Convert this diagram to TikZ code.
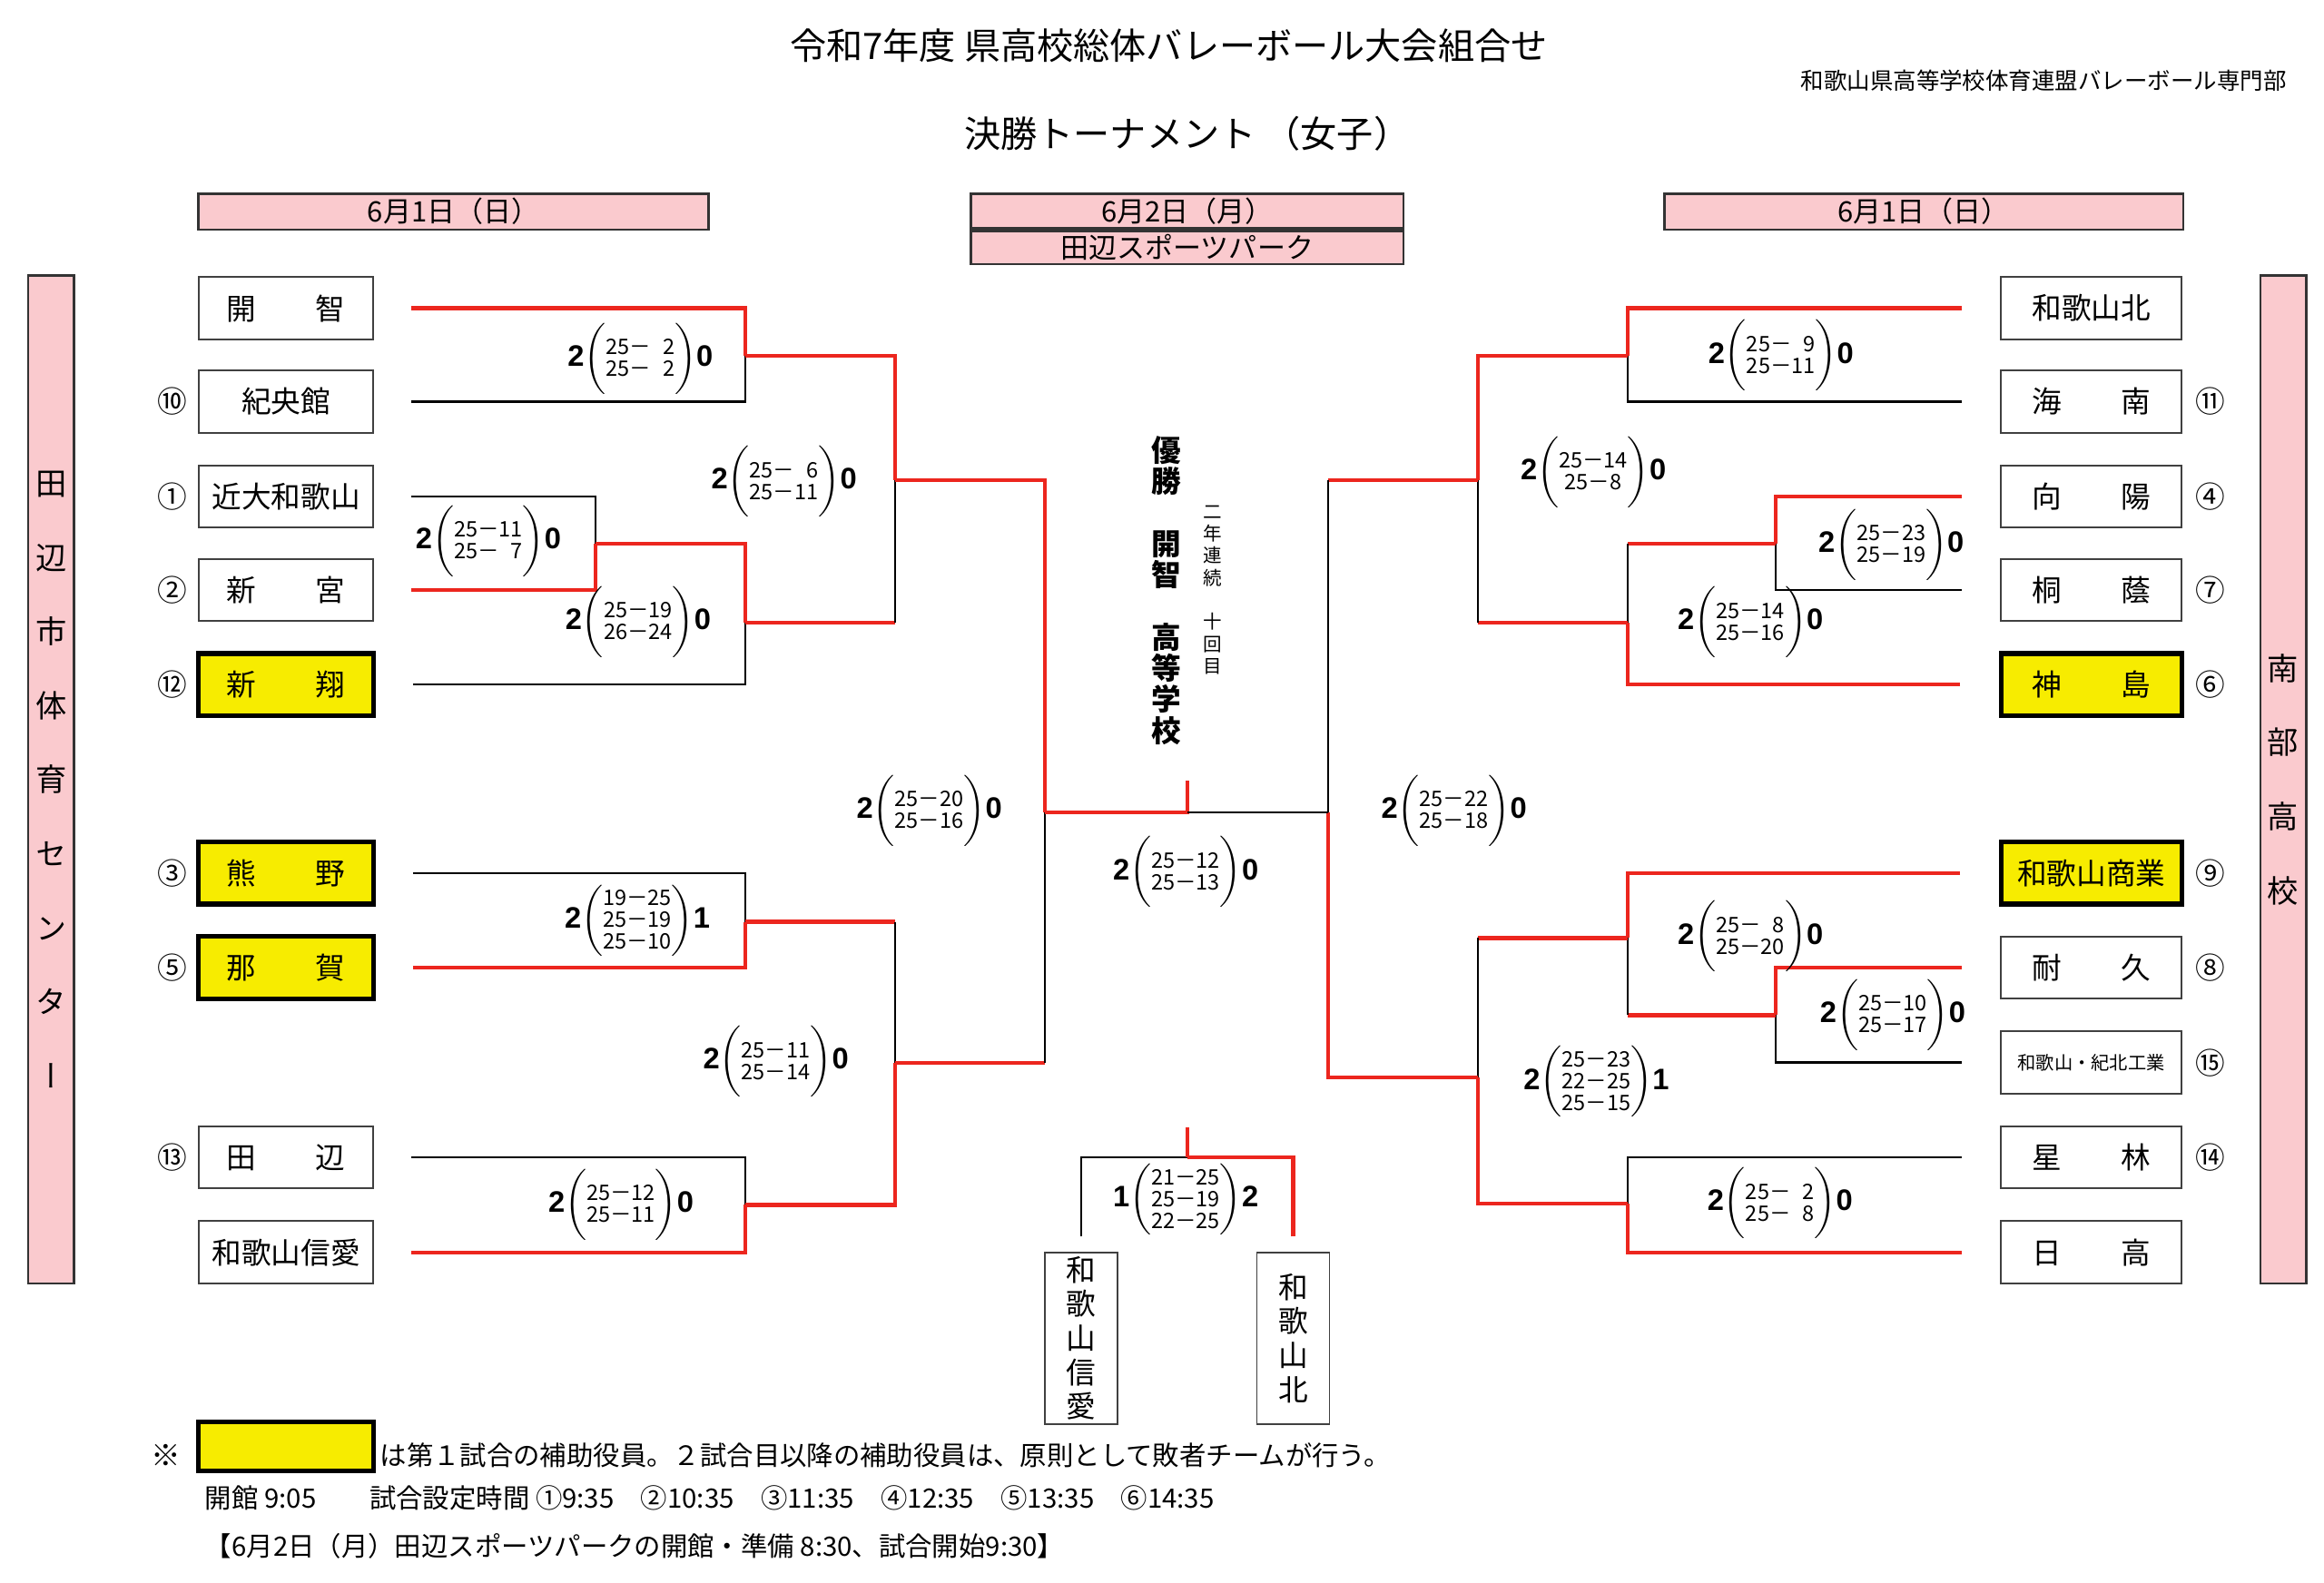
\documentclass[tikz,border=0pt]{standalone}
\usepackage{fontspec}
\setmainfont{Liberation Sans}
\newfontfamily\jp{Noto Sans CJK JP}
\newfontfamily\jpv[RawFeature=+vert]{Noto Sans CJK JP}
\definecolor{pinkbg}{RGB}{250,202,206}
\definecolor{helperyellow}{RGB}{247,236,0}
\definecolor{winred}{RGB}{236,38,30}
\newcommand{\scoreset}[3]{\textbf{#1}$\bigg(\hbox{\jp\fontsize{7.2}{7.2}\selectfont\begin{tabular}{@{}c@{}}#2\end{tabular}}\bigg)$\textbf{#3}}
\begin{document}
\begin{tikzpicture}[x=0.5pt,y=-0.5pt,line join=miter,
  win/.style={draw=winred,line width=1.3pt},
  lose/.style={draw=black,line width=0.7pt},
  team/.style={draw=black!75,line width=0.6pt,inner sep=0pt,minimum width=59pt,minimum height=21pt,font=\jp\fontsize{10}{12}\selectfont},
  rteam/.style={team,minimum width=61pt},
  helper/.style={draw=black,line width=1.6pt,fill=helperyellow},
  seed/.style={inner sep=0pt,font=\jp\fontsize{10}{12}\selectfont},
  score/.style={inner sep=0pt,font=\fontsize{10}{12}\selectfont},
  datebox/.style={draw=black!80,line width=0.8pt,fill=pinkbg,inner sep=0pt,minimum height=12.2pt,font=\jp\fontsize{9.5}{11}\selectfont},
  sidebox/.style={draw=black!80,line width=0.8pt,fill=pinkbg,inner sep=0pt,minimum width=15.5pt,minimum height=340pt,align=center,font=\jpv\fontsize{10.5}{25}\selectfont},
  tbox/.style={draw=black!75,line width=0.6pt,inner sep=0pt,minimum width=24.5pt,minimum height=58pt,align=center,font=\jp\fontsize{10}{11.5}\selectfont},
  note/.style={inner sep=0pt,font=\jp\fontsize{9}{11}\selectfont},
  ]
\useasboundingbox (0,0) rectangle (1568,1067.6);
%%
\node[inner sep=0pt,font=\jp\fontsize{12.3}{15}\selectfont] (title) at (788.5,30.6) {令和7年度 県高校総体バレーボール大会組合せ};
\node[inner sep=0pt,font=\jp\fontsize{12.3}{15}\selectfont] (subtitle) at (801,90) {決勝トーナメント （女子）};
\node[inner sep=0pt,anchor=east,font=\jp\fontsize{7.8}{9}\selectfont] (org) at (1543,54.5) {和歌山県高等学校体育連盟バレーボール専門部};
\node[datebox,minimum width=172pt] (date_l) at (306,142.8) {6月1日（日）};
\node[datebox,minimum width=146pt,minimum height=11.8pt] (date_c) at (801,142.4) {6月2日（月）};
\node[datebox,minimum width=146pt,minimum height=11.2pt,anchor=north] (venue) at (date_c.south) {田辺スポーツパーク};
\node[datebox,minimum width=175pt] (date_r) at (1298,142.8) {6月1日（日）};
\node[sidebox] (side_l) at (34.5,526) {田\\辺\\市\\体\\育\\セ\\ン\\タ\\ー};
\node[sidebox] (side_r) at (1540.5,526) {南\\部\\高\\校};
%% left block
\node[team] (L1) at (193,208) {開　　智};
\node[team] (L2) at (193,271) {紀央館};
\node[team] (L3) at (193,335) {近大和歌山};
\node[team] (L4) at (193,398) {新　　宮};
\node[team,helper] (L5) at (193,462) {新　　翔};
\node[team,helper] (L6) at (193,589) {熊　　野};
\node[team,helper] (L7) at (193,653) {那　　賀};
\node[team] (L8) at (193,781) {田　　辺};
\node[team] (L9) at (193,845) {和歌山信愛};
\node[seed] (seed_L2) at (116,271) {⑩};
\node[seed] (seed_L3) at (116,335) {①};
\node[seed] (seed_L4) at (116,398) {②};
\node[seed] (seed_L5) at (116,462) {⑫};
\node[seed] (seed_L6) at (116,589) {③};
\node[seed] (seed_L7) at (116,653) {⑤};
\node[seed] (seed_L8) at (116,781) {⑬};
%% right block
\node[rteam] (R1) at (1411,208) {和歌山北};
\node[rteam] (R2) at (1411,271) {海　　南};
\node[rteam] (R3) at (1411,335) {向　　陽};
\node[rteam] (R4) at (1411,398) {桐　　蔭};
\node[rteam,helper] (R5) at (1411,462) {神　　島};
\node[rteam,helper] (R6) at (1411,589) {和歌山商業};
\node[rteam] (R7) at (1411,653) {耐　　久};
\node[rteam,font=\jp\fontsize{6.2}{8}\selectfont] (R8) at (1411,717) {和歌山・紀北工業};
\node[rteam] (R9) at (1411,781) {星　　林};
\node[rteam] (R10) at (1411,845) {日　　高};
\node[seed] (seed_R2) at (1491.5,271) {⑪};
\node[seed] (seed_R3) at (1491.5,335) {④};
\node[seed] (seed_R4) at (1491.5,398) {⑦};
\node[seed] (seed_R5) at (1491.5,462) {⑥};
\node[seed] (seed_R6) at (1491.5,589) {⑨};
\node[seed] (seed_R7) at (1491.5,653) {⑧};
\node[seed] (seed_R8) at (1491.5,717) {⑮};
\node[seed] (seed_R9) at (1491.5,781) {⑭};
%% junctions
\coordinate (m1) at (503,240);
\coordinate (m2) at (402,367);
\coordinate (m3) at (503,420);
\coordinate (m4) at (604,324);
\coordinate (m5) at (503,622);
\coordinate (m6) at (503,813);
\coordinate (m7) at (604,717);
\coordinate (m8) at (705,548);
\coordinate (n1) at (1098,240);
\coordinate (n2) at (1198,367);
\coordinate (n3) at (1098,420);
\coordinate (n4) at (997,324);
\coordinate (n5) at (1198,685);
\coordinate (n6) at (1098,633);
\coordinate (n7) at (1098,812);
\coordinate (n8) at (997,727);
\coordinate (n9) at (896,548);
\coordinate (fin) at (801,548);
\coordinate (fin_top) at (801,527);
%% left lines
\draw[win] ([xshift=12.5pt]L1.east) -| (m1);
\draw[lose] ([xshift=12.5pt]L2.east) -| (m1);
\draw[lose] ([xshift=12.5pt]L3.east) -| (m2);
\draw[win] ([xshift=12.5pt]L4.east) -| (m2);
\draw[win] (m2) -| (m3);
\draw[lose] ([xshift=12.5pt]L5.east) -| (m3);
\draw[win] (m1) -| (m4);
\draw[win] (m3) -- (m3 -| m4);
\draw[lose] (m3 -| m4) -- (m4);
\draw[lose] ([xshift=12.5pt]L6.east) -| (m5);
\draw[win] ([xshift=12.5pt]L7.east) -| (m5);
\draw[lose] ([xshift=12.5pt]L8.east) -| (m6);
\draw[win] ([xshift=12.5pt]L9.east) -| (m6);
\draw[win] (m5) -- (m5 -| m7);
\draw[lose] (m5 -| m7) -- (m7);
\draw[win] (m6) -| (m7);
\draw[win] (m4) -| (m8);
\draw[win] (m7) -- (m7 -| m8);
\draw[lose] (m7 -| m8) -- (m8);
%% right lines
\draw[win] ([xshift=-13pt]R1.west) -| (n1);
\draw[lose] ([xshift=-13pt]R2.west) -| (n1);
\draw[win] ([xshift=-13pt]R3.west) -| (n2);
\draw[lose] ([xshift=-13pt]R4.west) -| (n2);
\draw[win] (n2) -- (n2 -| n3);
\draw[lose] (n2 -| n3) -- (n3);
\draw[win] ([xshift=-13pt]R5.west) -| (n3);
\draw[win] (n1) -| (n4);
\draw[win] (n3) -- (n3 -| n4);
\draw[lose] (n3 -| n4) -- (n4);
\draw[win] ([xshift=-13pt]R7.west) -| (n5);
\draw[lose] ([xshift=-13pt]R8.west) -| (n5);
\draw[win] ([xshift=-13pt]R6.west) -| (n6);
\draw[win] (n5) -- (n5 -| n6);
\draw[lose] (n5 -| n6) -- (n6);
\draw[lose] ([xshift=-13pt]R9.west) -| (n7);
\draw[win] ([xshift=-13pt]R10.west) -| (n7);
\draw[win] (n6) -- (n6 -| n8);
\draw[lose] (n6 -| n8) -- (n8);
\draw[win] (n7) -| (n8);
\draw[win] (n4) -- (n4 -| n9);
\draw[lose] (n4 -| n9) -- (n9);
\draw[win] (n8) -| (n9);
%% final
\draw[win] (m8) -- (fin) -- (fin_top);
\draw[lose] (n9) -- (fin);
\node[inner sep=0pt,align=center,font=\jp\bfseries\fontsize{10}{10.5}\selectfont] (champ) at (787,398.5) {優\\勝\\　\\開\\智\\　\\高\\等\\学\\校};
\node[inner sep=0pt,align=center,font=\jp\fontsize{6.3}{7.45}\selectfont] (streak) at (818,398) {二\\年\\連\\続\\　\\十\\回\\目};
%% third place
\node[tbox] (T1) at (729.5,903) {和\\歌\\山\\信\\愛};
\node[tbox] (T2) at (872.5,903) {和\\歌\\山\\北};
\coordinate (t3) at (801,781);
\coordinate (t3_top) at (801,761);
\draw[lose] ([yshift=5pt]T1.north) |- (t3);
\draw[win] ([yshift=5pt]T2.north) |- (t3);
\draw[win] (t3) -- (t3_top);
%% scores
\node[score] (sc_1) at (432,242) {\scoreset{2}{25－\phantom{0}2\\25－\phantom{0}2}{0}};
\node[score] (sc_2) at (329.5,365) {\scoreset{2}{25－11\\25－\phantom{0}7}{0}};
\node[score] (sc_3) at (430.5,419.5) {\scoreset{2}{25－19\\26－24}{0}};
\node[score] (sc_4) at (529,325) {\scoreset{2}{25－\phantom{0}6\\25－11}{0}};
\node[score] (sc_5) at (430,621) {\scoreset{2}{19－25\\25－19\\25－10}{1}};
\node[score] (sc_6) at (523.5,716.4) {\scoreset{2}{25－11\\25－14}{0}};
\node[score] (sc_7) at (419,813) {\scoreset{2}{25－12\\25－11}{0}};
\node[score] (sc_8) at (627,547) {\scoreset{2}{25－20\\25－16}{0}};
\node[score] (sc_f) at (800,588.5) {\scoreset{2}{25－12\\25－13}{0}};
\node[score] (sc_9) at (1201.6,240) {\scoreset{2}{25－\phantom{0}9\\25－11}{0}};
\node[score] (sc_10) at (1075,318.5) {\scoreset{2}{25－14\\25－8}{0}};
\node[score] (sc_11) at (1276,367.5) {\scoreset{2}{25－23\\25－19}{0}};
\node[score] (sc_12) at (1181,420) {\scoreset{2}{25－14\\25－16}{0}};
\node[score] (sc_13) at (981,547) {\scoreset{2}{25－22\\25－18}{0}};
\node[score] (sc_14) at (1181,632) {\scoreset{2}{25－\phantom{0}8\\25－20}{0}};
\node[score] (sc_15) at (1277,685) {\scoreset{2}{25－10\\25－17}{0}};
\node[score] (sc_16) at (1077,730) {\scoreset{2}{25－23\\22－25\\25－15}{1}};
\node[score] (sc_17) at (1201,812) {\scoreset{2}{25－\phantom{0}2\\25－\phantom{0}8}{0}};
\node[score] (sc_3rd) at (800,809.5) {\scoreset{1}{21－25\\25－19\\22－25}{2}};
%% notes
\node[inner sep=0pt,font=\jp\fontsize{10}{12}\selectfont] (kome) at (112,982) {※};
\node[helper,inner sep=0pt,minimum width=59pt,minimum height=16.5pt] (legend) at (193,976) {};
\node[note,anchor=west] (note1) at (256,982) {は第１試合の補助役員。２試合目以降の補助役員は、原則として敗者チームが行う。};
\node[note,anchor=west] (note2) at (138,1010.6) {開館 9:05　　試合設定時間 ①9:35　②10:35　③11:35　④12:35　⑤13:35　⑥14:35};
\node[note,anchor=west] (note3) at (138,1043) {【6月2日（月）田辺スポーツパークの開館・準備 8:30、試合開始9:30】};
%
\end{tikzpicture}
\end{document}
